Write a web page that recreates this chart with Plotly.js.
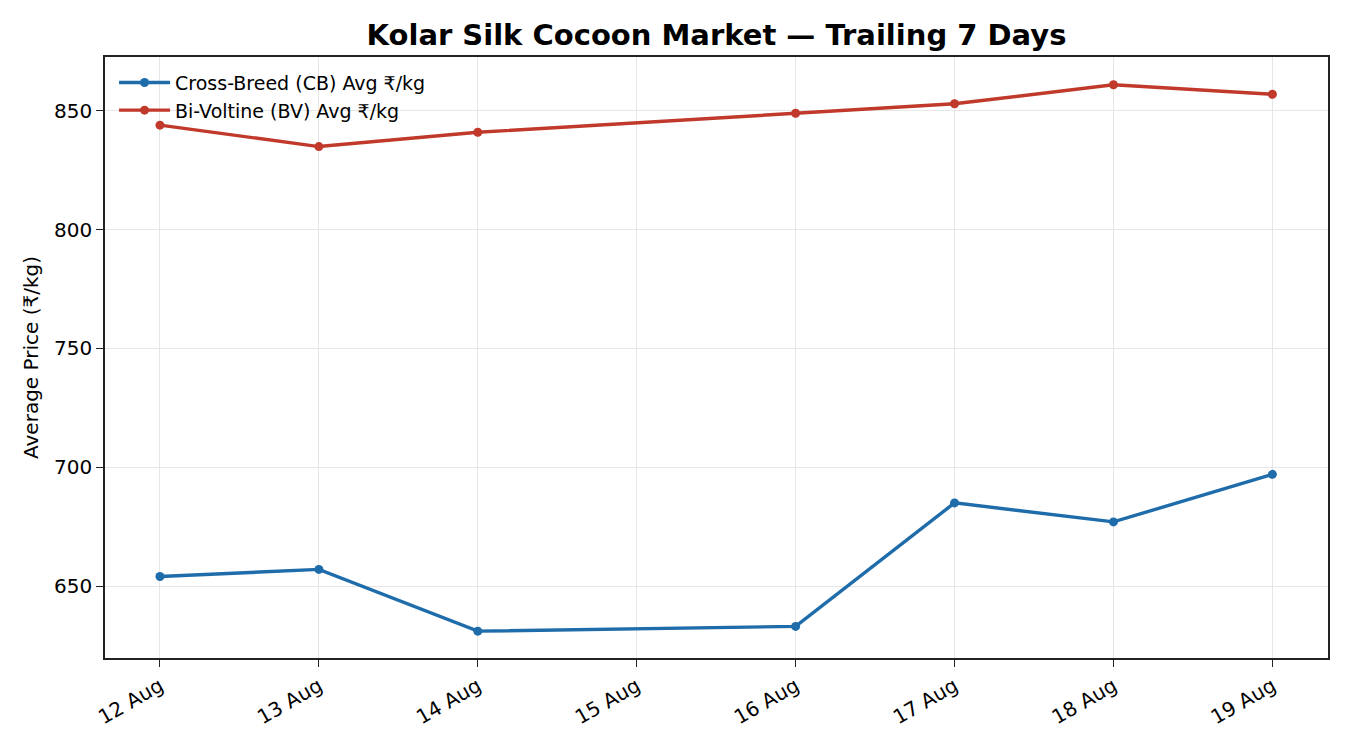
<!DOCTYPE html>
<html>
<head>
<meta charset="utf-8">
<script src="https://cdn.plot.ly/plotly-3.0.1.min.js"></script>
<style>
  html, body { margin: 0; padding: 0; background: #fff; }
  #chart { width: 1350px; height: 750px; }
</style>
</head>
<body>
<div id="chart"></div>
<script>
const dates = ["2024-08-12", "2024-08-13", "2024-08-14", "2024-08-16", "2024-08-17", "2024-08-18", "2024-08-19"];
const cbPrices = [654, 657, 631, 633, 685, 677, 697];
const bvPrices = [844, 835, 841, 849, 853, 861, 857];
const tickDates = ["2024-08-12", "2024-08-13", "2024-08-14", "2024-08-15", "2024-08-16", "2024-08-17", "2024-08-18", "2024-08-19"];
const tickLabels = ["12 Aug", "13 Aug", "14 Aug", "15 Aug", "16 Aug", "17 Aug", "18 Aug", "19 Aug"];

const font = "DejaVu Sans, sans-serif";

Plotly.newPlot(
  "chart",
  [
    {
      name: "Cross-Breed (CB) Avg ₹/kg",
      x: dates,
      y: cbPrices,
      type: "scatter",
      mode: "lines+markers",
      line: { color: "#1f6cab", width: 3.4 },
      marker: { color: "#1f6cab", size: 9 },
    },
    {
      name: "Bi-Voltine (BV) Avg ₹/kg",
      x: dates,
      y: bvPrices,
      type: "scatter",
      mode: "lines+markers",
      line: { color: "#c0392b", width: 3.4 },
      marker: { color: "#c0392b", size: 9 },
    },
  ],
  {
    width: 1350,
    height: 750,
    margin: { l: 105, r: 22, t: 57, b: 92 },
    paper_bgcolor: "#fff",
    plot_bgcolor: "#fff",
    font: { family: font, color: "#000", size: 19 },
    title: {
      text: "<b>Kolar Silk Cocoon Market — Trailing 7 Days</b>",
      font: { family: font, size: 29, color: "#000" },
      xref: "paper",
      x: 0.5,
      xanchor: "center",
      y: 0.953,
      yanchor: "middle",
    },
    showlegend: true,
    legend: {
      x: 0.0074,
      y: 0.989,
      xanchor: "left",
      yanchor: "top",
      itemwidth: 51,
      bgcolor: "rgba(255,255,255,0)",
      font: { family: font, size: 19, color: "#000" },
    },
    xaxis: {
      type: "date",
      range: ["2024-08-11 15:42", "2024-08-19 08:24"],
      tickvals: tickDates,
      ticktext: tickLabels,
      tickangle: -30,
      ticks: "outside",
      ticklen: 7,
      tickwidth: 1.2,
      tickcolor: "#222",
      showline: true,
      linecolor: "#222",
      linewidth: 1.5,
      mirror: true,
      showgrid: true,
      gridcolor: "#e6e6e6",
      gridwidth: 1,
      zeroline: false,
      tickfont: { family: font, size: 20, color: "#000" },
    },
    yaxis: {
      range: [619.7, 872.7],
      tickvals: [650, 700, 750, 800, 850],
      ticks: "outside",
      ticklen: 7,
      tickwidth: 1.2,
      tickcolor: "#222",
      showline: true,
      linecolor: "#222",
      linewidth: 1.5,
      mirror: true,
      showgrid: true,
      gridcolor: "#e6e6e6",
      gridwidth: 1,
      zeroline: false,
      tickfont: { family: font, size: 20, color: "#000" },
      title: {
        text: "Average Price (₹/kg)",
        font: { family: font, size: 20, color: "#000" },
        standoff: 10,
      },
    },
  },
  { displayModeBar: false, responsive: false }
);
</script>
</body>
</html>
